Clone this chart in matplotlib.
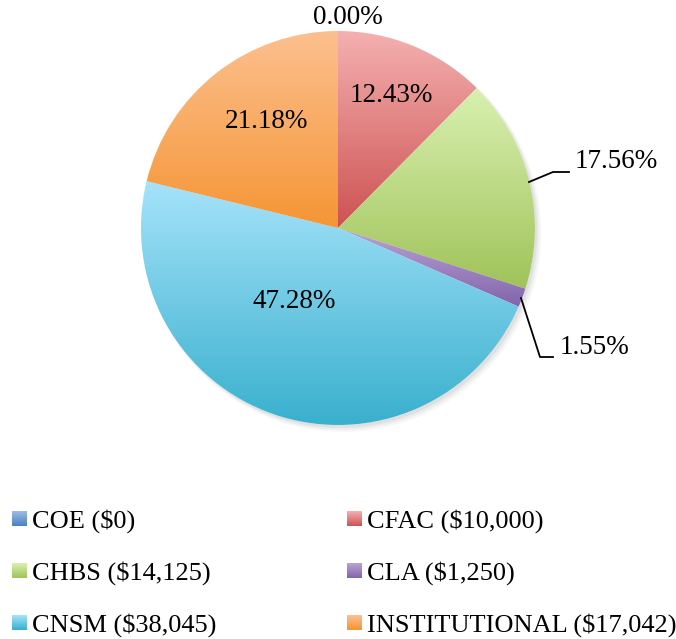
import numpy as np
import matplotlib
matplotlib.use("Agg")
from matplotlib import pyplot as plt
from matplotlib.colors import LinearSegmentedColormap
from matplotlib.patches import Circle

# data, clockwise from 12 o'clock
names = ["COE", "CFAC", "CHBS", "CLA", "CNSM", "INSTITUTIONAL"]
amounts = [0, 10000, 14125, 1250, 38045, 17042]
# percentages as printed on the chart
pct_labels = [0.00, 12.43, 17.56, 1.55, 47.28, 21.18]

# gradient colours: lighter at top, darker at bottom
tops = ["#9dbbe6", "#f5b0b0", "#d9f0b0", "#b8a3d4", "#a6e3fa", "#fcc08f"]
bottoms = ["#4a82c0", "#cd5252", "#a0c35a", "#8364ab", "#37afcd", "#f59535"]

W, H = 676, 639
cx, cy, R = 338, 228, 197

fig = plt.figure(figsize=(W / 100, H / 100), dpi=100)
ax = fig.add_axes([0, 0, 1, 1])
ax.set_xlim(-cx / R, (W - cx) / R)
ax.set_ylim(-(H - cy) / R, cy / R)
ax.set_aspect("equal")
ax.axis("off")

def px(x, y):
    # pixel position -> data coords
    return (x - cx) / R, (cy - y) / R

# soft shadow
for i, a in enumerate([0.05, 0.04, 0.03]):
    ax.add_patch(Circle((0.012 + i * 0.006, -0.015 - i * 0.006), 1.0 + i * 0.004,
                        color="black", alpha=a, lw=0, zorder=0))

wedges, _ = ax.pie(amounts, startangle=90, counterclock=False, radius=1,
                   wedgeprops=dict(lw=0))

for w, t, b, v in zip(wedges, tops, bottoms, amounts):
    w.set_facecolor("none")
    if v == 0:
        continue
    w.set_facecolor("white")
    verts = w.get_path().vertices
    ymin, ymax = verts[:, 1].min(), verts[:, 1].max()
    cmap = LinearSegmentedColormap.from_list("g", [b, t])
    grad = np.linspace(0, 1, 256).reshape(-1, 1)
    im = ax.imshow(grad, cmap=cmap, origin="lower", aspect="auto",
                   extent=(-1, 1, ymin, ymax), zorder=2)
    im.set_clip_path(w)

pcts = ["%.2f%%" % p for p in pct_labels]

lab_font = dict(family=["Liberation Serif", "DejaVu Serif"], fontsize=19.5)

# label placement (pixels) and leader lines
ax.text(*px(348, 18), pcts[0], ha="center", va="center", zorder=5, **lab_font)
ax.text(*px(391, 96), pcts[1], ha="center", va="center", zorder=5, **lab_font)
ax.text(*px(575, 162), pcts[2], ha="left", va="center", zorder=5, **lab_font)
ax.text(*px(560, 348), pcts[3], ha="left", va="center", zorder=5, **lab_font)
ax.text(*px(294, 301), pcts[4], ha="center", va="center", zorder=5, **lab_font)
ax.text(*px(266, 121), pcts[5], ha="center", va="center", zorder=5, **lab_font)

l1 = np.array([px(529, 182), px(553, 172), px(569, 172)])
ax.plot(l1[:, 0], l1[:, 1], color="black", lw=1.3, zorder=5)
l2 = np.array([px(521, 298), px(540, 357), px(553, 357)])
ax.plot(l2[:, 0], l2[:, 1], color="black", lw=1.3, zorder=5)

# legend
leg_font = dict(family=["Liberation Serif", "DejaVu Serif"], fontsize=19)
rows = [521, 573, 625]
cols = [12, 347]
for i, (n, v) in enumerate(zip(names, amounts)):
    x0 = cols[i % 2]
    y0 = rows[i // 2]
    sx, sy = px(x0, y0 + 5)
    s = 15 / R
    cmap = LinearSegmentedColormap.from_list("g", [bottoms[i], tops[i]])
    grad = np.linspace(0, 1, 64).reshape(-1, 1)
    ax.imshow(grad, cmap=cmap, origin="lower", aspect="auto",
              extent=(sx, sx + s, sy, sy + s), zorder=3)
    ax.text(*px(x0 + 20, y0), "%s ($%s)" % (n, format(v, ",")),
            ha="left", va="center", **leg_font)

ax.set_xlim(-cx / R, (W - cx) / R)
ax.set_ylim(-(H - cy) / R, cy / R)

fig.savefig("out.png", dpi=100)
